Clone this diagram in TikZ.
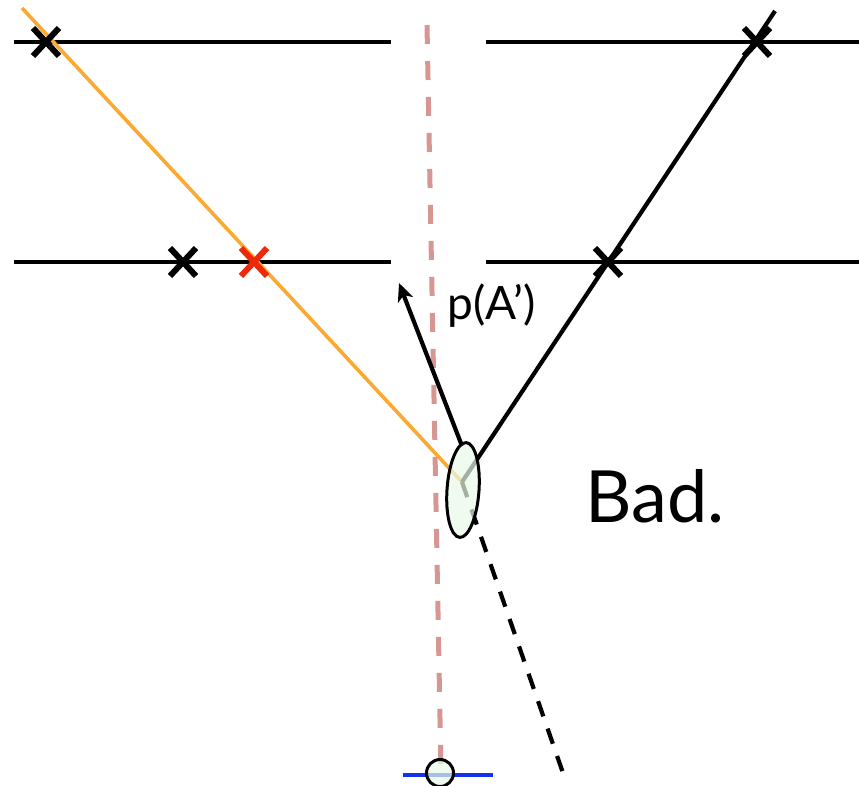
\documentclass[tikz,border=0pt]{standalone}
\usepackage{fontspec}
\setmainfont{Lato}
\usetikzlibrary{arrows.meta,shapes.geometric}
\begin{document}
\begin{tikzpicture}[x=1pt,y=-1pt,
  hline/.style={line width=4.2pt,black},
  xmark/.style={line width=6pt},
  ray/.style={line width=4.2pt,black},
  pinkdash/.style={line width=5pt,draw=pinkc,dash pattern=on 19pt off 17pt},
  blkdash/.style={line width=4.2pt,black,dash pattern=on 16pt off 13pt}]
\definecolor{pinkc}{RGB}{214,150,145}
\definecolor{orangec}{RGB}{250,170,50}
\definecolor{redc}{RGB}{238,40,10}
\definecolor{lgreen}{RGB}{232,250,232}
\definecolor{bluec}{RGB}{20,50,235}
\useasboundingbox (0,0) rectangle (859,785);
% horizontal lines
\coordinate (a1) at (14,42); \coordinate (a2) at (391,42);
\coordinate (a3) at (486,42); \coordinate (a4) at (859,42);
\coordinate (b1) at (14,262); \coordinate (b2) at (391,262);
\coordinate (b3) at (486,262); \coordinate (b4) at (859,262);
\draw[hline] (a1) -- (a2); \draw[hline] (a3) -- (a4);
\draw[hline] (b1) -- (b2); \draw[hline] (b3) -- (b4);
% key points
\coordinate (c) at (462,482);
\coordinate (ps) at (427,25); \coordinate (pe) at (441,772);
\coordinate (os) at (22,8);
\coordinate (rs) at (775,11);
\coordinate (as) at (462,446); \coordinate (at) at (399,283);
\coordinate (de) at (563,773);
% pink dashed
\draw[pinkdash] (ps) -- (pe);
% orange ray
\draw[line width=3.6pt,orangec] (os) -- (c);
% right black ray
\draw[ray] (rs) -- (c);
% arrow
\draw[ray,-{Stealth[length=18pt,width=16pt,inset=5pt]}] (as) -- (at);
% dashed continuation
\draw[blkdash] (c) -- (de);
% X marks
\foreach \n/\px/\py/\col in {x1/46/42/black, x2/183/262/black, x3/254/262/redc, x4/757/42/black, x5/608/262/black}{
  \coordinate (\n) at (\px,\py);
  \draw[xmark,\col] ([shift={(-13,-14)}]\n) -- ([shift={(13,14)}]\n);
  \draw[xmark,\col] ([shift={(-13,14)}]\n) -- ([shift={(13,-14)}]\n);
}
% ellipse
\node[draw=black,line width=3pt,fill=lgreen,fill opacity=0.7,ellipse,minimum width=32pt,minimum height=95pt,inner sep=0pt,rotate=-4] (ell) at (463,490) {};
% bottom
\coordinate (bl1) at (403,775); \coordinate (bl2) at (493,775);
\draw[line width=4pt,bluec] (bl1) -- (bl2);
\node[draw=black,line width=3pt,fill=lgreen,fill opacity=0.7,circle,minimum size=27pt,inner sep=0pt] (sc) at (440,773) {};
% labels
\node[font=\fontsize{46}{52}\selectfont,anchor=west,inner sep=0pt] (lab) at (447,306) {p(A’)};
\node[font=\fontsize{72}{80}\selectfont,anchor=west,inner sep=0pt] (bad) at (585,496) {Bad.};
\end{tikzpicture}
\end{document}
